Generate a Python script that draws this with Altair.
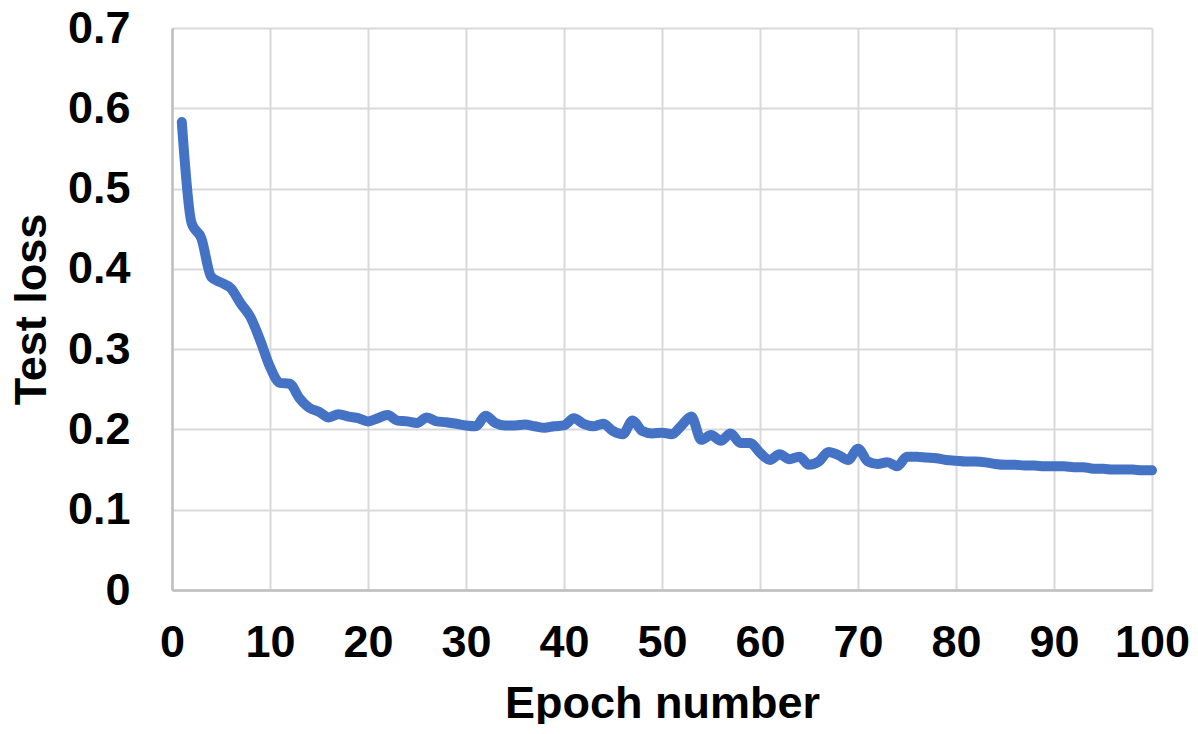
import altair as alt
import pandas as pd

epochs = list(range(1, 101))
test_loss = [
    0.583, 0.457, 0.438, 0.390, 0.383, 0.376, 0.357, 0.340, 0.311, 0.278,
    0.258, 0.257, 0.239, 0.227, 0.222, 0.215, 0.219, 0.216, 0.214, 0.210,
    0.214, 0.218, 0.211, 0.210, 0.208, 0.215, 0.210, 0.209, 0.207, 0.205,
    0.204, 0.217, 0.208, 0.205, 0.205, 0.206, 0.204, 0.202, 0.204, 0.205,
    0.214, 0.207, 0.204, 0.207, 0.198, 0.194, 0.211, 0.198, 0.195, 0.196,
    0.194, 0.205, 0.216, 0.187, 0.193, 0.186, 0.195, 0.183, 0.183, 0.171,
    0.162, 0.169, 0.163, 0.166, 0.156, 0.160, 0.172, 0.168, 0.162, 0.176,
    0.160, 0.157, 0.159, 0.154, 0.166, 0.166, 0.165, 0.164, 0.162, 0.161,
    0.160, 0.160, 0.159, 0.157, 0.156, 0.156, 0.155, 0.155, 0.154, 0.154,
    0.154, 0.153, 0.153, 0.151, 0.151, 0.150, 0.150, 0.150, 0.149, 0.149,
]
x_ticks = [0, 10, 20, 30, 40, 50, 60, 70, 80, 90, 100]
y_ticks = [0, 0.1, 0.2, 0.3, 0.4, 0.5, 0.6, 0.7]

df = pd.DataFrame({"epoch": epochs, "loss": test_loss})

FONT = "Liberation Sans"

chart = (
    alt.Chart(df)
    .mark_line(color="#4472C4", strokeWidth=10, strokeCap="round",
               strokeJoin="round", interpolate="monotone")
    .encode(
        x=alt.X("epoch:Q", title="Epoch number",
                scale=alt.Scale(domain=[0, 100], nice=False, zero=False),
                axis=alt.Axis(values=x_ticks, labelPadding=30, titlePadding=16,
                              labelFlush=False, labelOverlap=False)),
        y=alt.Y("loss:Q", title="Test loss",
                scale=alt.Scale(domain=[0, 0.7], nice=False),
                axis=alt.Axis(values=y_ticks, labelPadding=42, titlePadding=13,
                              labelFlush=False, labelOverlap=False,
                              labelExpr="datum.value == 0 ? '0' : format(datum.value, '.1f')")),
    )
    .properties(
        width=980,
        height=562,
        autosize=alt.AutoSizeParams(type="none"),
        padding={"left": 164, "top": 20, "right": 38, "bottom": 134},
    )
    .configure_view(stroke=None)
    .configure_axis(
        grid=True,
        gridColor="#d9d9d9",
        gridWidth=2,
        domainColor="#bfbfbf",
        domainWidth=2.5,
        ticks=False,
        labelFont=FONT,
        labelFontSize=45,
        labelFontWeight="bold",
        labelColor="#000000",
        titleFont=FONT,
        titleFontSize=45,
        titleFontWeight="bold",
        titleColor="#000000",
    )
    .configure_axisY(labelBaseline="middle")
)

chart.save("out.html", embed_options={"renderer": "svg", "actions": False})
